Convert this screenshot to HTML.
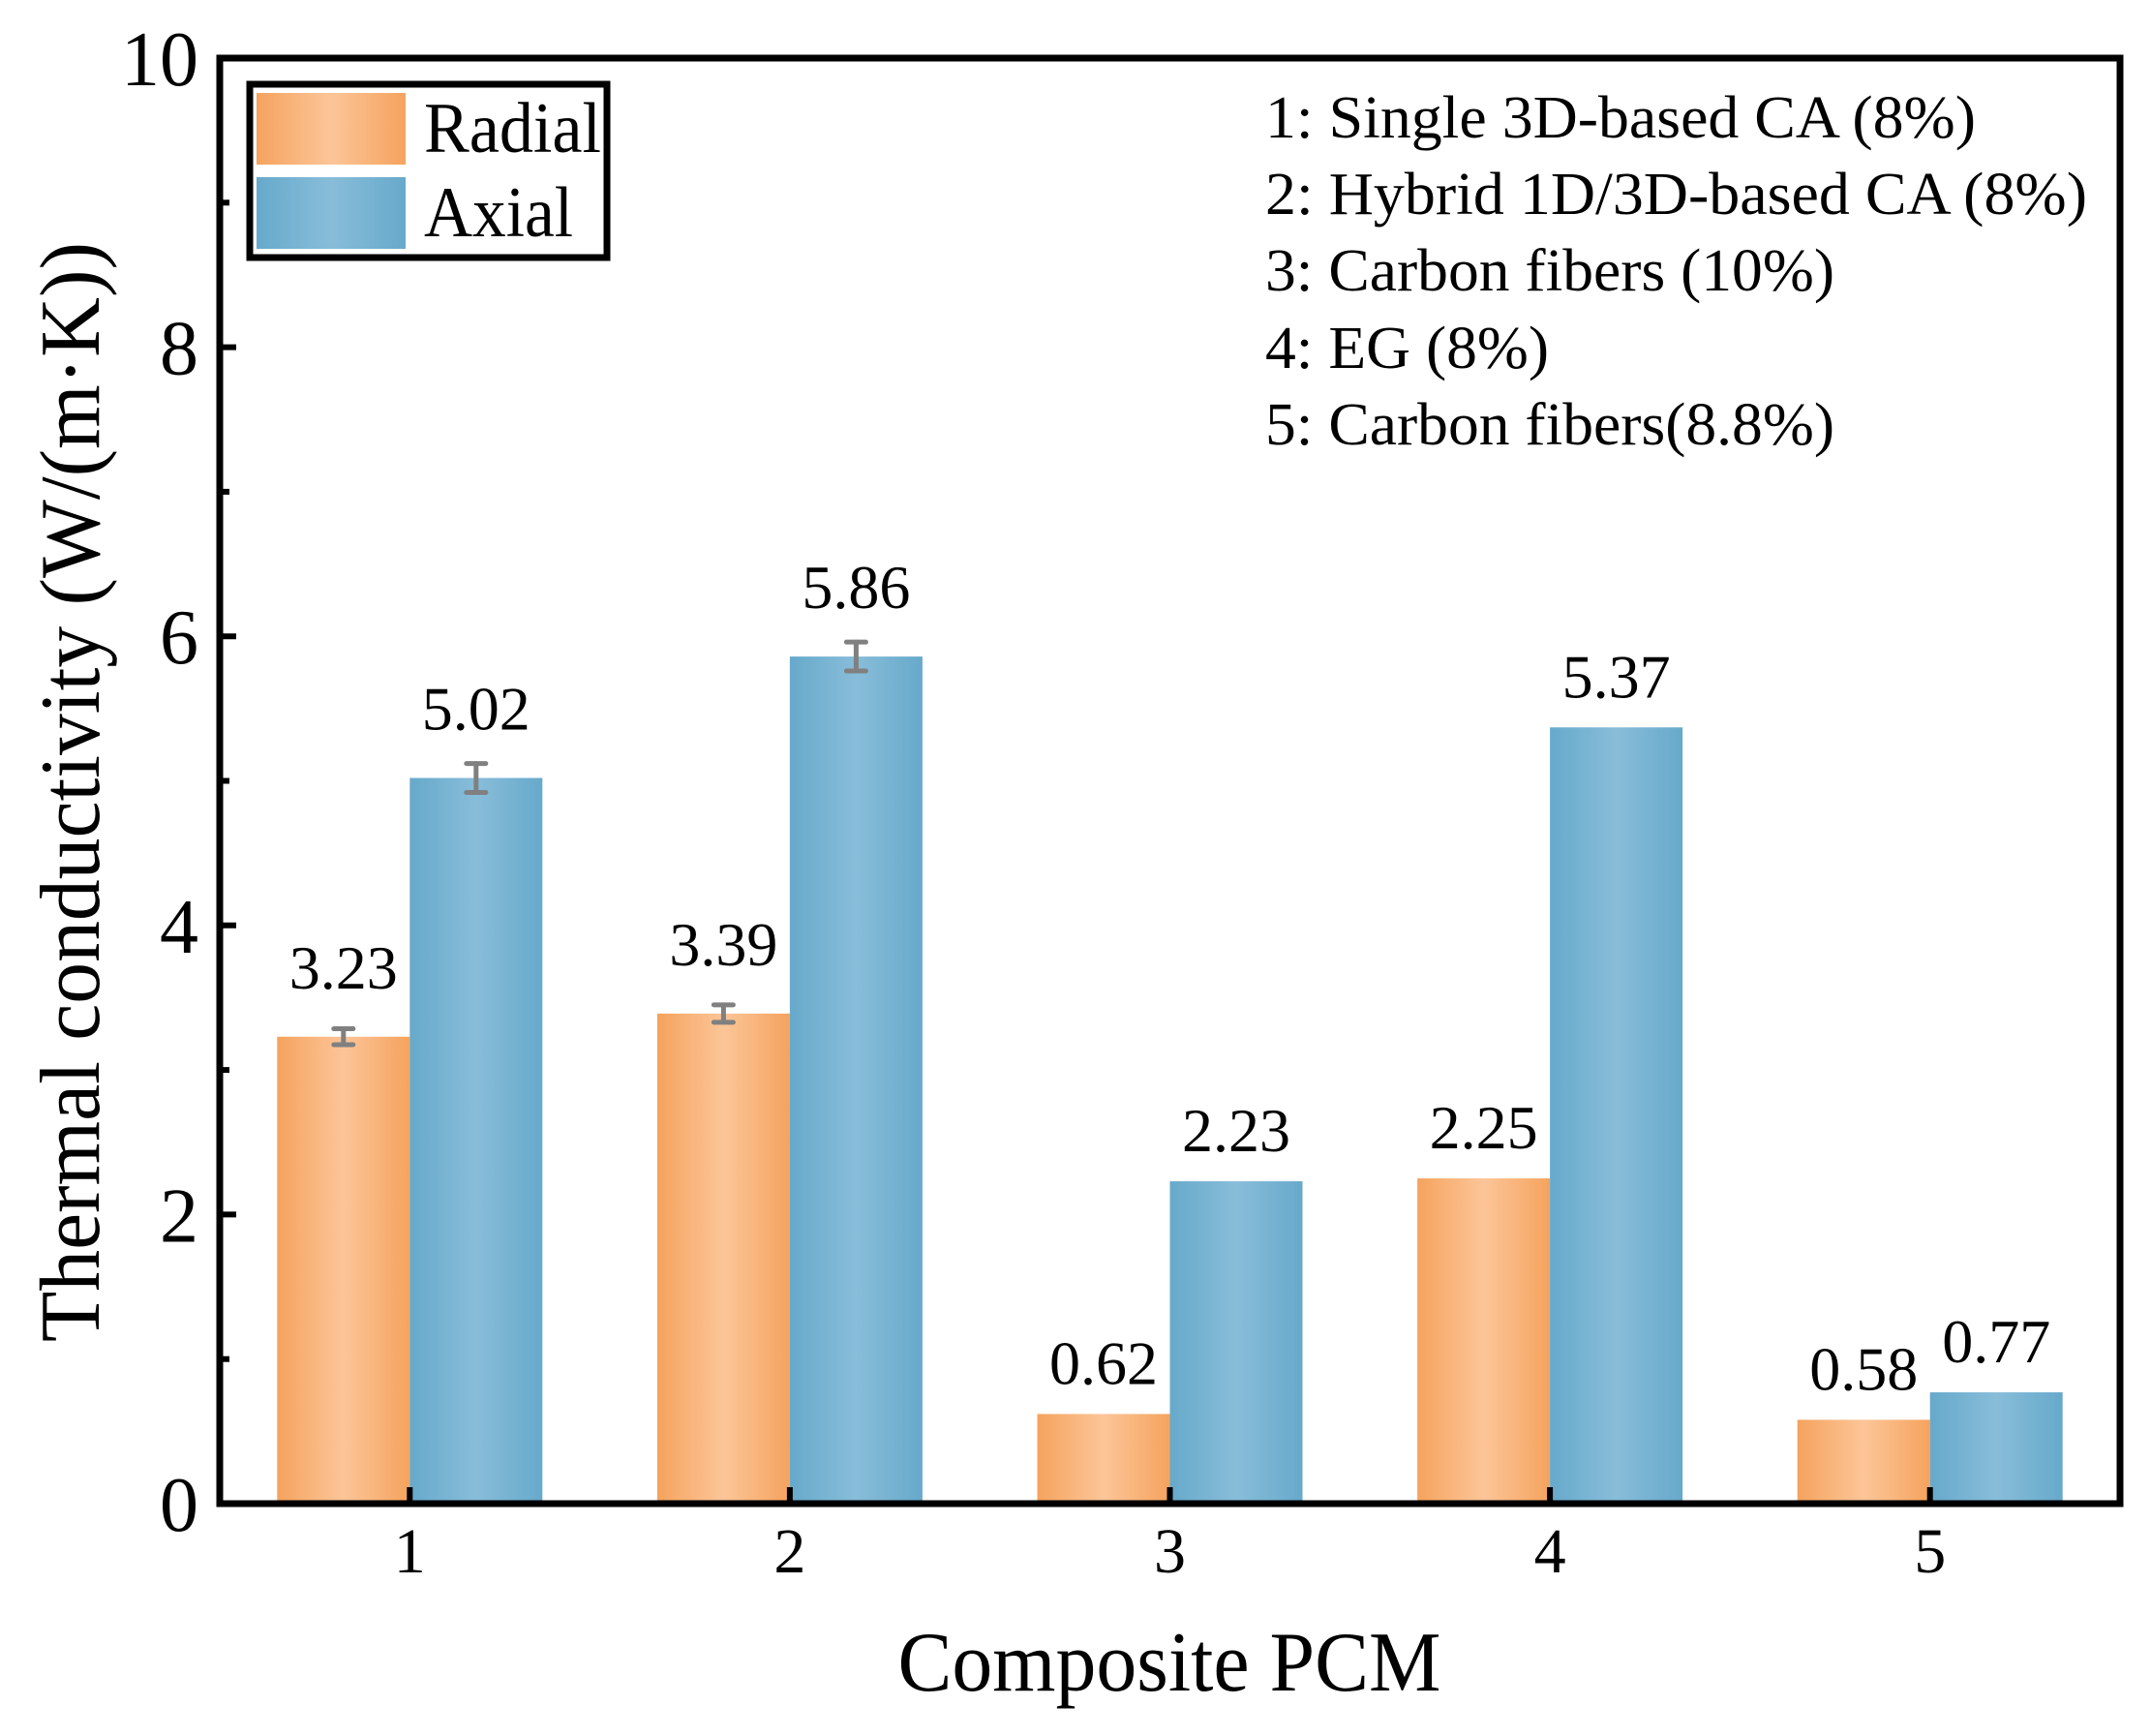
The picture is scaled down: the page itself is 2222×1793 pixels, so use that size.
<!DOCTYPE html>
<html><head><meta charset="utf-8"><style>
html,body{margin:0;padding:0;background:#fff;}
svg, svg text{font-family:"Liberation Serif","Times New Roman",serif;}
</style></head><body>
<svg id="chart" width="2222" height="1788" viewBox="0 0 2222 1788" xmlns="http://www.w3.org/2000/svg" font-family="Liberation Serif, serif">
<defs>
<linearGradient id="gO" x1="0" x2="1" y1="0" y2="0">
<stop offset="0" stop-color="#f5a35e"/><stop offset="0.5" stop-color="#fcc598"/><stop offset="1" stop-color="#f5a35e"/></linearGradient>
<linearGradient id="gB" x1="0" x2="1" y1="0" y2="0">
<stop offset="0" stop-color="#67a9cb"/><stop offset="0.5" stop-color="#88bdd9"/><stop offset="1" stop-color="#67a9cb"/></linearGradient>
</defs>
<g id="bars"></g>
<g id="axes"></g>
<g>
<rect x="258" y="87" width="369" height="179" fill="#fff" stroke="#000" stroke-width="7"/>
<rect x="265" y="96" width="154" height="74" fill="url(#gO)"/>
<rect x="265" y="183" width="154" height="74" fill="url(#gB)"/>
<text x="438" y="157" font-size="74" textLength="183" lengthAdjust="spacingAndGlyphs">Radial</text>
<text x="438" y="244" font-size="74" textLength="154" lengthAdjust="spacingAndGlyphs">Axial</text>
</g>
<g font-size="62">
<text x="1307" y="142" textLength="734" lengthAdjust="spacingAndGlyphs">1: Single 3D-based CA (8%)</text>
<text x="1307" y="221" textLength="849" lengthAdjust="spacingAndGlyphs">2: Hybrid 1D/3D-based CA (8%)</text>
<text x="1307" y="300" textLength="588" lengthAdjust="spacingAndGlyphs">3: Carbon fibers (10%)</text>
<text x="1307" y="380" textLength="293" lengthAdjust="spacingAndGlyphs">4: EG (8%)</text>
<text x="1307" y="459" textLength="588" lengthAdjust="spacingAndGlyphs">5: Carbon fibers(8.8%)</text>
</g>
<text x="1208" y="1746" font-size="88" text-anchor="middle" textLength="561" lengthAdjust="spacingAndGlyphs">Composite PCM</text>
<text transform="translate(102,818) rotate(-90)" font-size="88" text-anchor="middle" textLength="1136" lengthAdjust="spacingAndGlyphs">Thermal conductivity (W/(m·K))</text>
</svg>
<script>
const categories = ["1","2","3","4","5"];
const radial = [3.23, 3.39, 0.62, 2.25, 0.58];
const axial = [5.02, 5.86, 2.23, 5.37, 0.77];
const radialErr = [0.055, 0.06, 0, 0, 0];
const axialErr = [0.10, 0.10, 0, 0, 0];
const yTicks = [0, 2, 4, 6, 8, 10];
const yMinorTicks = [1, 3, 5, 7, 9];

const NS = "http://www.w3.org/2000/svg";
const L = 227, R = 2190, T = 60, B = 1553;
const yMin = 0, yMax = 10;
function yScale(v){ return B - (v - yMin) / (yMax - yMin) * (B - T); }
function xScale(i){ return L + (i + 0.5) / categories.length * (R - L); }
const barW = 137;
function mk(tag, attrs, parent){
  const e = document.createElementNS(NS, tag);
  for (const k in attrs) e.setAttribute(k, attrs[k]);
  parent.appendChild(e);
  return e;
}
const gb = document.getElementById('bars');
const ga = document.getElementById('axes');

function drawSeries(vals, errs, fill, side, name){
  vals.forEach((v, i) => {
    const cx = xScale(i);
    const x0 = side < 0 ? cx - barW : cx;
    const y = yScale(v);
    const r = mk('rect', {x: x0, y: y, width: barW, height: B - y, fill: fill}, gb);
    
    
    const mid = x0 + barW / 2;
    if (errs[i] > 0) {
      const y1 = yScale(v + errs[i]), y2 = yScale(v - errs[i]);
      const eg = mk('g', {stroke: '#808080', 'stroke-width': 5, 'stroke-linecap': 'round'}, gb);
      
      
      mk('line', {x1: mid, x2: mid, y1: y1, y2: y2}, eg);
      mk('line', {x1: mid - 10, x2: mid + 10, y1: y1, y2: y1}, eg);
      mk('line', {x1: mid - 10, x2: mid + 10, y1: y2, y2: y2}, eg);
    }
    const ly = errs[i] > 0 ? y - 50 : y - 31;
    const t = mk('text', {x: mid, y: ly, 'font-size': 64, 'text-anchor': 'middle'}, gb);
    
    
    t.textContent = v.toFixed(2);
  });
}
drawSeries(radial, radialErr, 'url(#gO)', -1, 'radial');
drawSeries(axial, axialErr, 'url(#gB)', 1, 'axial');

const fr = mk('rect', {x: L, y: T, width: R - L, height: B - T, fill: 'none', stroke: '#000', 'stroke-width': 7}, ga);



yTicks.forEach(v => {
  const y = yScale(v);
  const tk = mk('line', {x1: L, x2: L + 17, y1: y, y2: y, stroke: '#000', 'stroke-width': 6}, ga);
  
  
  const t = mk('text', {x: 205, y: y + 28, 'font-size': 80, 'text-anchor': 'end'}, ga);
  
  
  t.textContent = String(v);
});
yMinorTicks.forEach(v => {
  const y = yScale(v);
  const tk = mk('line', {x1: L, x2: L + 10, y1: y, y2: y, stroke: '#000', 'stroke-width': 6}, ga);
  
  
});
categories.forEach((c, i) => {
  const x = xScale(i);
  const tk = mk('line', {x1: x, x2: x, y1: B, y2: B - 17, stroke: '#000', 'stroke-width': 6}, ga);
  
  
  const t = mk('text', {x: x, y: 1624, 'font-size': 66, 'text-anchor': 'middle'}, ga);
  
  
  t.textContent = c;
});
</script>
</body></html>
